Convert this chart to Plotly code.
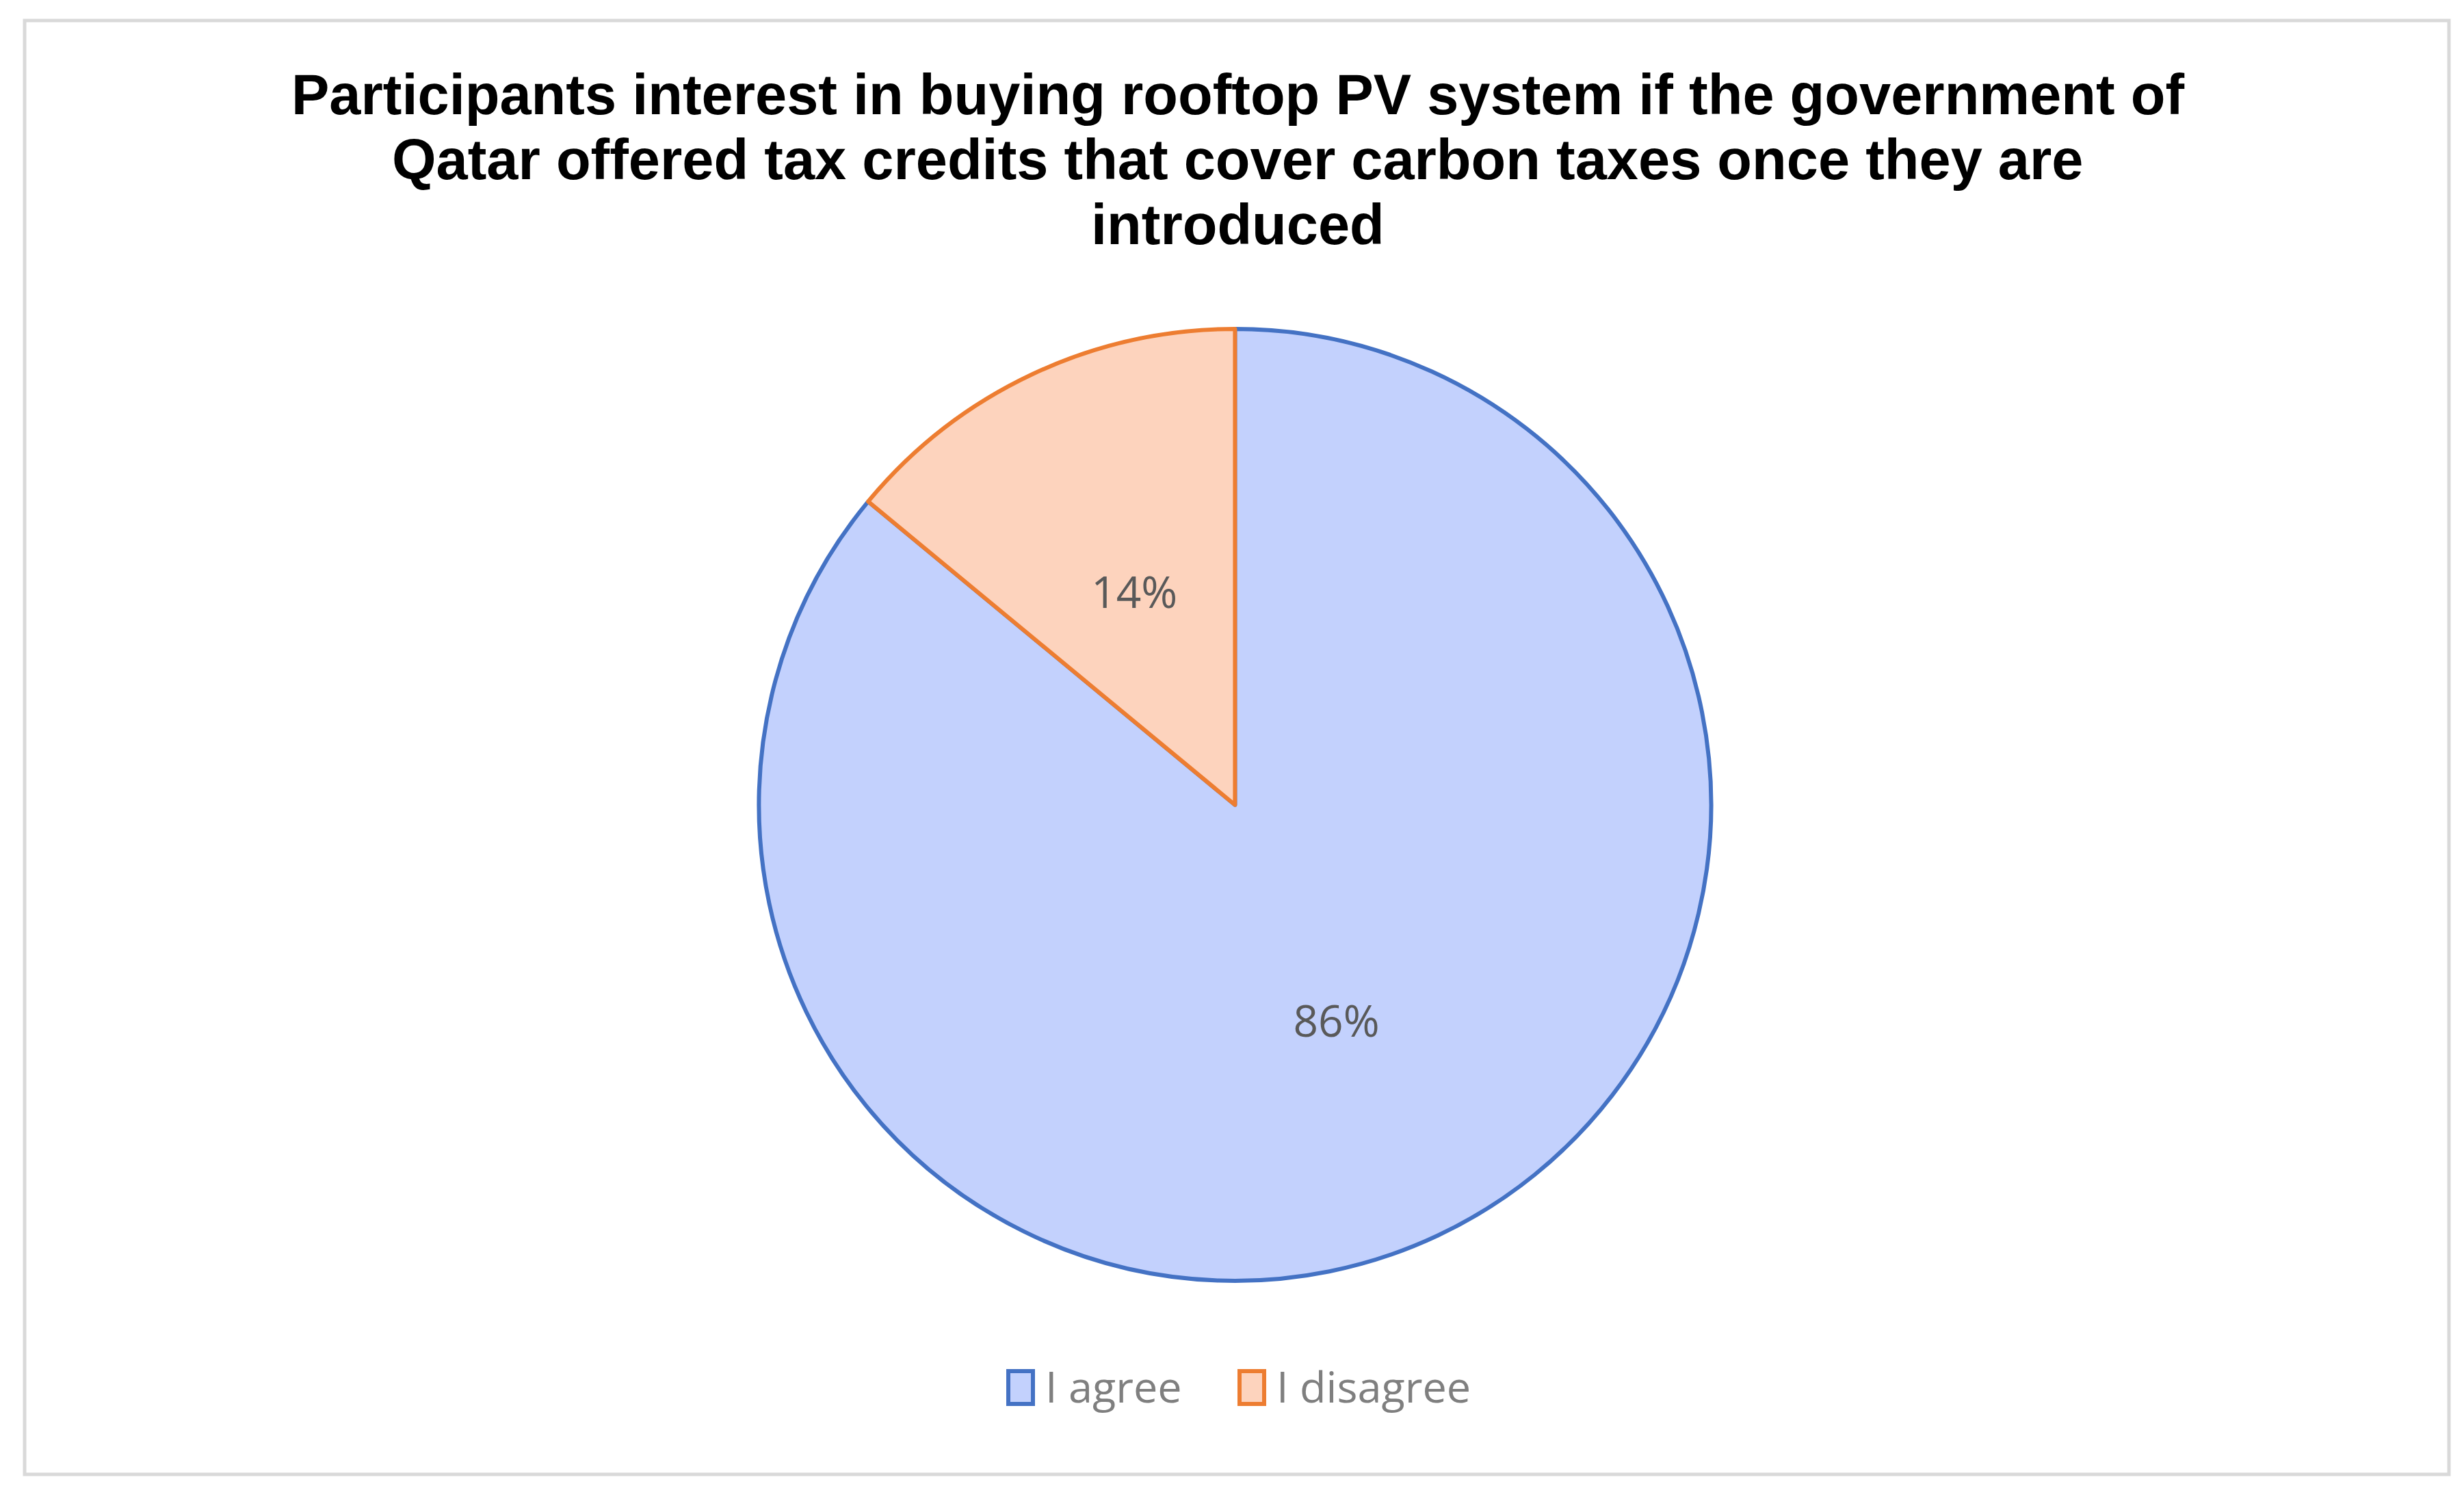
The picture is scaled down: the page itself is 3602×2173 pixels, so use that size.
import plotly.graph_objects as go

# survey answers
labels = ['I agree', 'I disagree']
values = [86, 14]
fill_colors = ['#c3d1fd', '#fdd3bd']
line_colors = ['#4472c4', '#ed7d31']

title_lines = ['Participants interest in buying rooftop PV system if the government of',
               'Qatar offered tax credits that cover carbon taxes once they are',
               'introduced']

W, H = 3602, 2173
cy = 1169            # pie centre, px from top
R = 696              # pie radius, px


def ydom(r):
    return [1 - (cy + r) / H, 1 - (cy - r) / H]


pct_font = dict(family='Open Sans', size=64, color='#595959')

fig = go.Figure()
fig.add_trace(go.Pie(
    labels=labels, values=values, sort=False, direction='clockwise', rotation=0,
    marker=dict(colors=fill_colors, line=dict(color=line_colors, width=6)),
    texttemplate=['%{percent:.0%}', ''], textposition='inside',
    insidetextorientation='horizontal', textfont=pct_font,
    domain=dict(x=[0, 0.998], y=ydom(R)),
    showlegend=False, hoverinfo='label+percent',
))
# same data again, transparent and smaller, only to pull the small slice's label inward
fig.add_trace(go.Pie(
    labels=labels, values=values, sort=False, direction='clockwise', rotation=0,
    marker=dict(colors=['rgba(0,0,0,0)'] * 2, line=dict(width=0)),
    texttemplate=['', '%{percent:.0%}'], textposition='inside',
    insidetextorientation='horizontal', textfont=pct_font,
    domain=dict(x=[0, 0.998], y=ydom(493)),
    showlegend=False, hoverinfo='skip',
))

# outer chart-area border
shapes = [dict(type='rect', xref='paper', yref='paper',
               x0=28 / W, x1=3572 / W, y0=1 - 2148 / H, y1=1 - 22 / H,
               line=dict(color='#d9d9d9', width=5), fillcolor='rgba(0,0,0,0)')]

# title, one annotation per line to get Excel's tighter line spacing
annotations = []
for i, line in enumerate(title_lines):
    annotations.append(dict(text='<b>' + line + '</b>', xref='paper', yref='paper',
                            x=0.5, y=1 - (131 + 95 * i) / H, xanchor='center', yanchor='middle',
                            showarrow=False,
                            font=dict(family='Liberation Sans, Arial', size=83, color='black')))

# legend drawn by hand so the keys are as big as in the original
key_x = [1466, 1804]
for lab, fc, lc, kx in zip(labels, fill_colors, line_colors, key_x):
    shapes.append(dict(type='rect', xref='paper', yref='paper',
                       x0=kx / W, x1=(kx + 36) / W, y0=1 - 2045 / H, y1=1 - 1997 / H,
                       fillcolor=fc, line=dict(color=lc, width=6)))
    annotations.append(dict(text=lab, xref='paper', yref='paper', showarrow=False,
                            x=(kx + 52) / W, y=1 - 2018 / H, xanchor='left', yanchor='middle',
                            font=dict(family='Open Sans', size=63, color='#7f7f7f')))

fig.update_layout(
    width=W, height=H,
    margin=dict(l=0, r=0, t=0, b=0),
    paper_bgcolor='white', plot_bgcolor='white',
    shapes=shapes, annotations=annotations,
)

fig.write_html('out.html')
